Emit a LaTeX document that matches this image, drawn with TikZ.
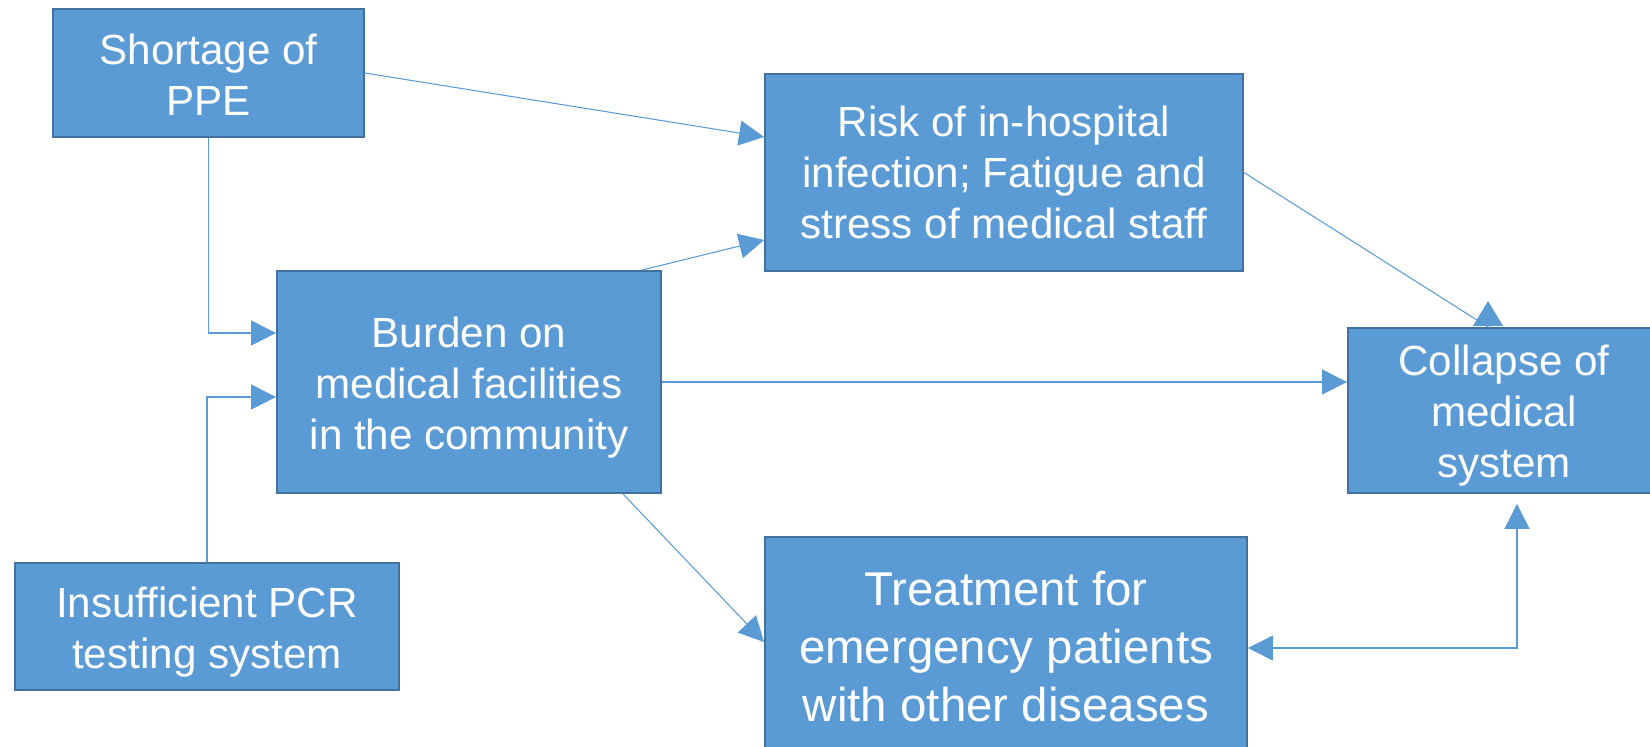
\documentclass[tikz,border=0pt]{standalone}
\usepackage{fontspec}
\setmainfont{Liberation Sans}
\usetikzlibrary{arrows.meta}
\newcommand{\topgap}[1]{\rule{0pt}{#1}}

\begin{document}
\begin{tikzpicture}[x=0.02cm,y=-0.02cm,
	block/.style={draw=boxline,line width=1.1pt,fill=boxfill,text=white,align=center,inner sep=0pt,font=\fontsize{24}{29}\selectfont},
	raisetext/.style={execute at end node={\rule[-#1]{0pt}{#1}}},
	link/.style={draw=linkblue,line width=0.6pt,-{Triangle[length=0.5cm,width=0.5cm]}}]
		\definecolor{boxfill}{HTML}{5B9BD5}
		\definecolor{boxline}{HTML}{41719C}
		\definecolor{linkblue}{HTML}{5B9BD5}
		\useasboundingbox (0,0) rectangle (1650,747);
		\clip (0,0) rectangle (1650,747);
		% Ursachen
		\node[block,minimum width=6.22cm,minimum height=2.56cm] (ppe) at (208.5,73) {\topgap{19pt}Shortage of\\PPE};
		\node[block,minimum width=7.68cm,minimum height=2.54cm] (pcr) at (207,626.5) {\topgap{23.5pt}Insufficient PCR\\testing system};
		% Mitte
		\node[block,minimum width=7.68cm,minimum height=4.44cm] (burden) at (469,382) {\topgap{23.5pt}Burden on\\medical facilities\\in the community};
		\node[block,minimum width=9.56cm,minimum height=3.94cm] (risk) at (1004,172.5) {Risk of in-hospital\\infection; Fatigue and\\stress of medical staff};
		\node[block,raisetext=6.6pt,minimum width=9.64cm,minimum height=4.6cm,font=\fontsize{27}{33}\selectfont] (treat) at (1006,652) {Treatment for\\emergency patients\\with other diseases};
		% Kollaps
		\node[block,minimum width=6.24cm,minimum height=3.3cm] (collapse) at (1504,410.5) {\topgap{23.5pt}Collapse of\\medical\\system};
		
		% Verbindungen
		\draw[link] (ppe.east) -- (risk.west |- 0,137);
		\draw[link] (burden.north -| 642,0) -- (risk.west |- 0,240);
		\draw[link] (ppe.south) |- (burden.west |- 0,333);
		\draw[link] (pcr.north) |- (burden.west |- 0,397);
		\draw[link] (burden.east) -- (collapse.west |- burden.east);
		\draw[link,-{Triangle[length=0.5cm,width=0.6cm]}] (risk.east) -- (collapse.north -| 1488,0) -- ++(0,-26);
		\draw[link] (burden.south -| 623,0) -- (treat.west |- 0,642);
		\coordinate (turn) at (1517,648);
		\draw[link,{Triangle[length=0.5cm,width=0.5cm]}-{Triangle[length=0.5cm,width=0.5cm]},shorten <=0.2cm] (collapse.south -| turn) -- (turn) -- (treat.east |- turn);
		
		\end{tikzpicture}
\end{document}
